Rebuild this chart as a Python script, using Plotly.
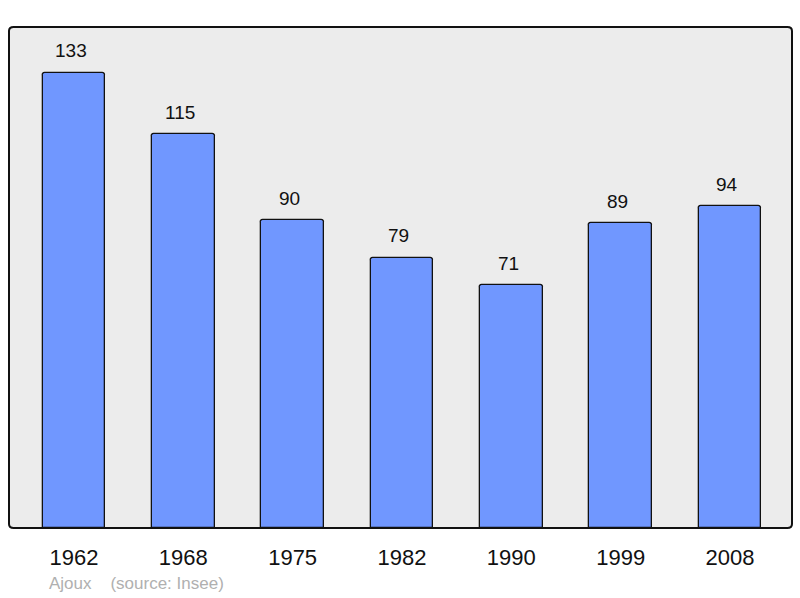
import plotly.graph_objects as go

years = ["1962", "1968", "1975", "1982", "1990", "1999", "2008"]
population = [133, 115, 90, 79, 71, 89, 94]

xpos = list(range(len(years)))
FONT = "Liberation Sans, Arial, sans-serif"

fig = go.Figure()
fig.add_trace(go.Bar(
    x=xpos, y=population, width=0.575,
    marker=dict(color="#7097ff", line=dict(color="#111111", width=1.3), cornerradius=3),
    hoverinfo="skip",
))

for xi, v in zip(xpos, population):
    fig.add_annotation(x=xi, y=v, text=str(v), showarrow=False, yshift=22, xshift=-3,
                       yanchor="middle", font=dict(family=FONT, size=19, color="#111111"))

fig.update_layout(
    width=800, height=598,
    margin=dict(l=9, r=8, t=27, b=70),
    paper_bgcolor="white", plot_bgcolor="#ececec",
    showlegend=False, bargap=0,
    xaxis=dict(range=[-0.594, 6.567], tickmode="array", tickvals=xpos, ticktext=years,
               showgrid=False, zeroline=False, ticks="", showline=False,
               tickfont=dict(family=FONT, size=22, color="#111111"),
               ticklabelstandoff=14),
    yaxis=dict(range=[0, 146.4], showgrid=False, zeroline=False, showticklabels=False,
               ticks="", showline=False),
    font=dict(family=FONT),
)

# frame with rounded corners
x0, y0, x1, y1, r = 0, 0, 1, 1, 0.006
fig.add_shape(type="path", xref="paper", yref="paper",
              path=f"M {x0+r} {y0} L {x1-r} {y0} Q {x1} {y0} {x1} {y0+0.008} L {x1} {y1-0.008} Q {x1} {y1} {x1-r} {y1} "
                   f"L {x0+r} {y1} Q {x0} {y1} {x0} {y1-0.008} L {x0} {y0+0.008} Q {x0} {y0} {x0+r} {y0} Z",
              line=dict(color="#111111", width=2), layer="above")

fig.add_annotation(text="Ajoux" + "\u00a0" * 4 + "(source: Insee)", xref="paper", yref="paper",
                   x=(47 - 9) / 783, y=-55 / 501, xanchor="left", yanchor="middle",
                   showarrow=False, font=dict(size=17, color="#b0b0b0", family=FONT))

fig.write_html("out.html", config={"displayModeBar": False},
               post_script="document.body.style.margin='0';")
